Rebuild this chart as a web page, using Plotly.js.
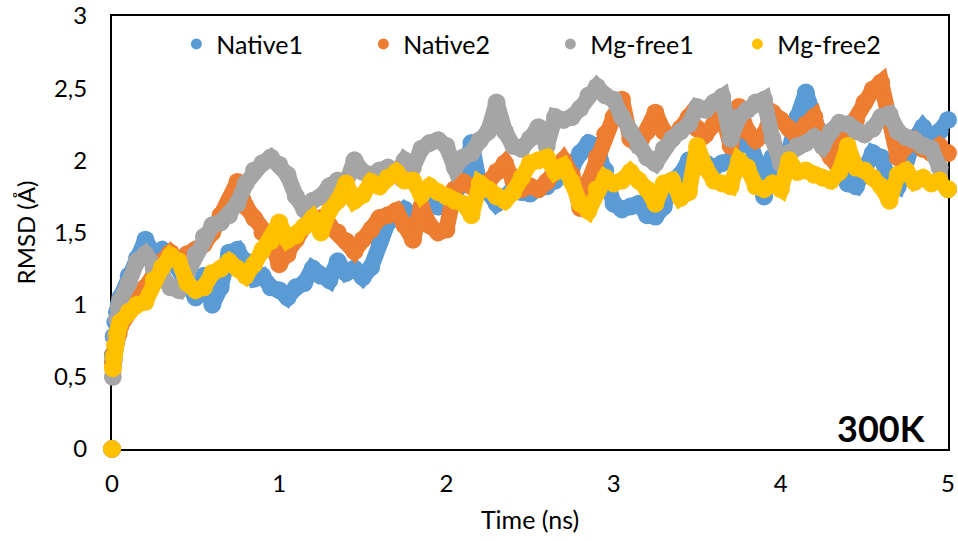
<!DOCTYPE html>
<html>
<head>
<meta charset="utf-8">
<script src="https://cdn.plot.ly/plotly-3.0.1.min.js"></script>
<style>html,body{margin:0;padding:0;background:#fff;}#chart{width:958px;height:541px;}</style>
</head>
<body>
<div id="chart"></div>
<script>
// Time (ns)
const time = [0, 0.005, 0.01, 0.02, 0.03, 0.04,
  0.05, 0.10, 0.15, 0.20, 0.25, 0.30, 0.35, 0.40, 0.45, 0.50,
  0.55, 0.60, 0.65, 0.70, 0.75, 0.80, 0.85, 0.90, 0.95, 1.00,
  1.05, 1.10, 1.15, 1.20, 1.25, 1.30, 1.35, 1.40, 1.45, 1.50,
  1.55, 1.60, 1.65, 1.70, 1.75, 1.80, 1.85, 1.90, 1.95, 2.00,
  2.05, 2.10, 2.15, 2.20, 2.25, 2.30, 2.35, 2.40, 2.45, 2.50,
  2.55, 2.60, 2.65, 2.70, 2.75, 2.80, 2.85, 2.90, 2.95, 3.00,
  3.05, 3.10, 3.15, 3.20, 3.25, 3.30, 3.35, 3.40, 3.45, 3.50,
  3.55, 3.60, 3.65, 3.70, 3.75, 3.80, 3.85, 3.90, 3.95, 4.00,
  4.05, 4.10, 4.15, 4.20, 4.25, 4.30, 4.35, 4.40, 4.45, 4.50,
  4.55, 4.60, 4.65, 4.70, 4.75, 4.80, 4.85, 4.90, 4.95, 5.00];

const native1 = [0, 0.65, 0.78, 0.88, 0.95, 1.00,
  1.05, 1.20, 1.32, 1.45, 1.35, 1.38, 1.33, 1.25, 1.15, 1.05,
  1.20, 1.00, 1.12, 1.36, 1.38, 1.30, 1.18, 1.20, 1.12, 1.10,
  1.05, 1.12, 1.15, 1.25, 1.20, 1.17, 1.30, 1.22, 1.25, 1.19,
  1.26, 1.43, 1.57, 1.60, 1.66, 1.62, 1.65, 1.70, 1.68, 1.72,
  1.77, 1.85, 2.12, 1.82, 1.78, 1.70, 1.74, 1.80, 1.78, 1.77,
  1.80, 1.82, 1.86, 1.90, 1.95, 2.05, 2.12, 2.10, 1.93, 1.70,
  1.66, 1.68, 1.70, 1.62, 1.61, 1.68, 1.86, 1.90, 2.00, 2.02,
  1.98, 1.95, 1.98, 2.00, 2.10, 2.20, 2.00, 1.75, 2.02, 2.05,
  2.07, 2.30, 2.47, 2.30, 2.12, 2.07, 1.95, 1.84, 1.82, 1.95,
  2.05, 2.02, 1.85, 1.82, 2.00, 2.15, 2.23, 2.16, 2.20, 2.28];

const native2 = [0, 0.60, 0.66, 0.72, 0.78, 0.80,
  0.85, 0.95, 1.05, 1.12, 1.20, 1.30, 1.36, 1.30, 1.35, 1.38,
  1.42, 1.50, 1.62, 1.72, 1.85, 1.68, 1.60, 1.50, 1.45, 1.28,
  1.35, 1.45, 1.54, 1.58, 1.60, 1.55, 1.50, 1.44, 1.37, 1.45,
  1.52, 1.60, 1.62, 1.65, 1.55, 1.45, 1.68, 1.55, 1.50, 1.52,
  1.80, 1.85, 1.82, 1.80, 1.85, 1.92, 1.98, 1.86, 1.80, 1.82,
  1.80, 1.85, 1.92, 2.00, 1.90, 1.67, 1.85, 2.02, 2.18, 2.30,
  2.42, 2.15, 2.10, 2.20, 2.33, 2.20, 2.15, 2.22, 2.30, 2.22,
  2.18, 2.25, 2.33, 2.10, 2.37, 2.20, 2.14, 2.18, 2.33, 2.28,
  2.22, 2.16, 2.25, 2.30, 2.10, 2.02, 2.10, 2.20, 2.28, 2.40,
  2.49, 2.54, 2.30, 2.02, 2.10, 2.14, 2.08, 2.05, 2.10, 2.05];

const mgfree1 = [0, 0.50, 0.62, 0.78, 0.90, 0.98,
  1.03, 1.15, 1.30, 1.35, 1.25, 1.20, 1.12, 1.10, 1.22, 1.35,
  1.47, 1.55, 1.57, 1.62, 1.70, 1.84, 1.93, 1.98, 2.02, 1.97,
  1.90, 1.75, 1.66, 1.72, 1.75, 1.82, 1.86, 1.84, 2.00, 1.92,
  1.90, 1.93, 1.95, 1.90, 2.00, 1.95, 2.08, 2.12, 2.14, 2.10,
  1.95, 2.02, 2.05, 2.14, 2.20, 2.40, 2.20, 2.10, 2.08, 2.15,
  2.23, 2.10, 2.30, 2.28, 2.30, 2.36, 2.45, 2.51, 2.45, 2.42,
  2.30, 2.20, 2.10, 2.02, 1.98, 2.08, 2.15, 2.20, 2.25, 2.37,
  2.35, 2.40, 2.44, 2.15, 2.30, 2.35, 2.40, 2.42, 2.15, 1.98,
  2.05, 2.10, 2.12, 2.16, 2.10, 2.20, 2.26, 2.25, 2.20, 2.18,
  2.22, 2.30, 2.32, 2.20, 2.16, 2.14, 2.10, 2.08, 1.95, 1.80];

const mgfree2 = [0, 0.56, 0.64, 0.72, 0.80, 0.84,
  0.88, 0.95, 1.00, 1.02, 1.17, 1.26, 1.34, 1.30, 1.15, 1.10,
  1.12, 1.22, 1.25, 1.30, 1.25, 1.20, 1.28, 1.38, 1.44, 1.57,
  1.45, 1.48, 1.54, 1.60, 1.50, 1.65, 1.72, 1.84, 1.72, 1.76,
  1.85, 1.82, 1.88, 1.92, 1.86, 1.86, 1.76, 1.82, 1.78, 1.75,
  1.72, 1.70, 1.62, 1.84, 1.80, 1.75, 1.72, 1.78, 1.88, 1.98,
  2.00, 2.02, 1.92, 1.96, 1.85, 1.70, 1.65, 1.80, 1.88, 1.84,
  1.86, 1.92, 1.86, 1.80, 1.70, 1.84, 1.86, 1.74, 1.78, 2.10,
  1.95, 1.86, 1.84, 1.82, 2.00, 1.95, 1.82, 1.80, 1.84, 1.80,
  2.00, 1.92, 1.93, 1.90, 1.88, 1.86, 1.92, 2.10, 1.95, 1.93,
  1.88, 1.82, 1.72, 1.90, 1.93, 1.85, 1.88, 1.84, 1.86, 1.80];

const seriesNames = ['Native1', 'Native2', 'Mg-free1', 'Mg-free2'];
const seriesColors = ['#5B9BD5', '#ED7D31', '#A5A5A5', '#FFC000'];
const seriesValues = [native1, native2, mgfree1, mgfree2];

const xTickVals = [0, 1, 2, 3, 4, 5];
const xTickText = ['0', '1', '2', '3', '4', '5'];
const yTickVals = [0, 0.5, 1, 1.5, 2, 2.5, 3];
const yTickText = ['0', '0,5', '1', '1,5', '2', '2,5', '3'];

const FONT = 'Lato, "Open Sans", sans-serif';

const traces = [];
seriesValues.forEach((vals, i) => {
  // band joining consecutive samples (the t=0 origin sample is shown as a lone dot)
  traces.push({
    type: 'scatter', mode: 'lines', x: time.slice(1), y: vals.slice(1),
    showlegend: false, cliponaxis: false, hoverinfo: 'skip',
    line: {color: seriesColors[i], width: 16}
  });
  traces.push({
    type: 'scatter', mode: 'markers', x: time, y: vals,
    name: seriesNames[i], showlegend: false, cliponaxis: false,
    marker: {color: seriesColors[i], size: 18}
  });
});
seriesValues.forEach((vals, i) => {
  traces.push({
    type: 'scatter', mode: 'markers', x: [null], y: [null],
    name: seriesNames[i], showlegend: true,
    marker: {color: seriesColors[i], size: 11}
  });
});

const axisCommon = {
  showgrid: false, zeroline: false, showline: true, linecolor: '#000', linewidth: 2,
  mirror: true, ticks: '', layer: 'below traces',
  tickfont: {family: FONT, size: 24, color: '#000'}
};

const layout = {
  width: 958, height: 541,
  margin: {l: 112, r: 10, t: 16, b: 92},
  paper_bgcolor: '#fff', plot_bgcolor: '#fff',
  showlegend: true,
  legend: {
    orientation: 'h', x: 0.077, y: 0.935, xanchor: 'left', yanchor: 'middle',
    font: {family: FONT, size: 25, color: '#000'},
    bgcolor: 'rgba(0,0,0,0)', entrywidth: 142, entrywidthmode: 'pixels',
    itemclick: false
  },
  xaxis: Object.assign({}, axisCommon, {
    range: [0, 5], tickvals: xTickVals, ticktext: xTickText, ticklabelstandoff: 12,
    title: {text: 'Time (ns)', font: {family: FONT, size: 25, color: '#000'}, standoff: 16}
  }),
  yaxis: Object.assign({}, axisCommon, {
    range: [0, 3], tickvals: yTickVals, ticktext: yTickText, ticklabelstandoff: 18,
    title: {text: 'RMSD (Å)', font: {family: FONT, size: 24, color: '#000'}, standoff: 12}
  }),
  annotations: [{
    text: '<b>300K</b>', xref: 'paper', yref: 'paper', x: 0.975, y: 0.048,
    xanchor: 'right', yanchor: 'middle', showarrow: false,
    font: {family: FONT, size: 36, color: '#000'}
  }]
};

Plotly.newPlot('chart', traces, layout, {displayModeBar: false, staticPlot: true});
</script>
</body>
</html>
